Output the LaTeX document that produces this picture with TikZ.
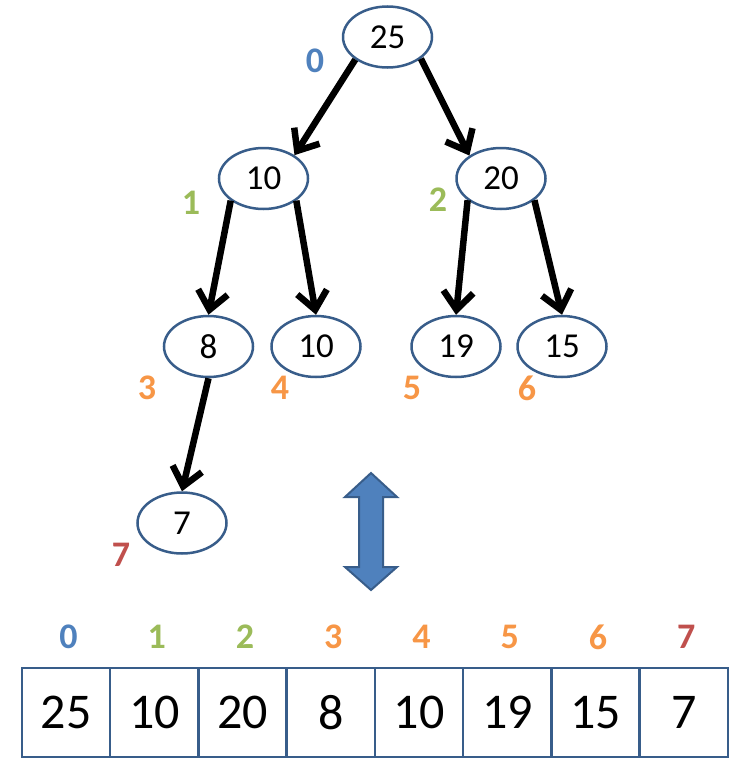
\documentclass[tikz,border=0pt]{standalone}
\usepackage{fontspec}
\setmainfont{Carlito}
\usetikzlibrary{arrows.meta,shapes.geometric}
\definecolor{edgeblue}{RGB}{56,93,138}
\definecolor{fillblue}{RGB}{79,129,189}
\definecolor{idxblue}{RGB}{79,129,189}
\definecolor{idxgreen}{RGB}{155,187,89}
\definecolor{idxorange}{RGB}{247,150,70}
\definecolor{idxred}{RGB}{192,80,77}
\begin{document}
\begin{tikzpicture}[x=1pt,y=-1pt,
  heapnode/.style={ellipse,draw=edgeblue,line width=2.5pt,minimum width=89pt,minimum height=61pt,inner sep=0pt,font=\fontsize{35}{40}\selectfont},
  idx/.style={font=\fontsize{36}{40}\selectfont\bfseries,inner sep=0pt},
  link/.style={line width=6.5pt,black,-{Straight Barb[length=18pt,width=30pt]}},
  cell/.style={draw=edgeblue,line width=2.5pt,minimum width=88.25pt,minimum height=89pt,inner sep=0pt,font=\fontsize{50}{60}\selectfont}
]
\useasboundingbox (0,0) rectangle (752,771);
% tree nodes
\node[heapnode] (n0) at (387.5,37) {25};
\node[heapnode] (n1) at (263.5,178.5) {10};
\node[heapnode] (n2) at (501,178.5) {20};
\node[heapnode] (n3) at (208.5,346.5) {8};
\node[heapnode] (n4) at (316,346.5) {10};
\node[heapnode] (n5) at (456,346.5) {19};
\node[heapnode] (n6) at (562,346.5) {15};
\node[heapnode] (n7) at (182,523) {7};
% tree index labels
\node[idx,text=idxblue] (t0) at (315,61) {0};
\node[idx,text=idxgreen] (t1) at (191,203) {1};
\node[idx,text=idxgreen] (t2) at (438,200) {2};
\node[idx,text=idxorange] (t3) at (147,388) {3};
\node[idx,text=idxorange] (t4) at (280,388) {4};
\node[idx,text=idxorange] (t5) at (412,388) {5};
\node[idx,text=idxorange] (t6) at (527,388) {6};
\node[idx,text=idxred] (t7) at (121,555) {7};
% connectors
\draw[link] (n0.215) -- (n1.37);
\draw[link] (n0.327) -- (n2.144);
\draw[link] (n1.214) -- (n3.north);
\draw[link] (n1.326) -- (n4.north);
\draw[link] (n2.213) -- (n5.north);
\draw[link] (n2.327) -- (n6.north);
\draw[link] (n3.south) -- (n7.north);
% double arrow
\draw[fill=fillblue,draw=edgeblue,line width=2pt,line join=miter]
  (371,473) -- (397,497) -- (383,497) -- (383,567) -- (397,567) -- (371,590)
  -- (345,567) -- (359,567) -- (359,497) -- (345,497) -- cycle;
% array
\foreach \v [count=\i from 0] in {25,10,20,8,10,19,15,7} {
  \node[cell] (c\i) at ({66.1+88.25*\i},712.5) {\v};
}
\foreach \i/\c in {0/idxblue,1/idxgreen,2/idxgreen,3/idxorange,4/idxorange,5/idxorange,6/idxorange,7/idxred} {
  \node[idx,text=\c] (a\i) at ({68.5+88.25*\i},637) {\i};
}
\end{tikzpicture}
\end{document}
